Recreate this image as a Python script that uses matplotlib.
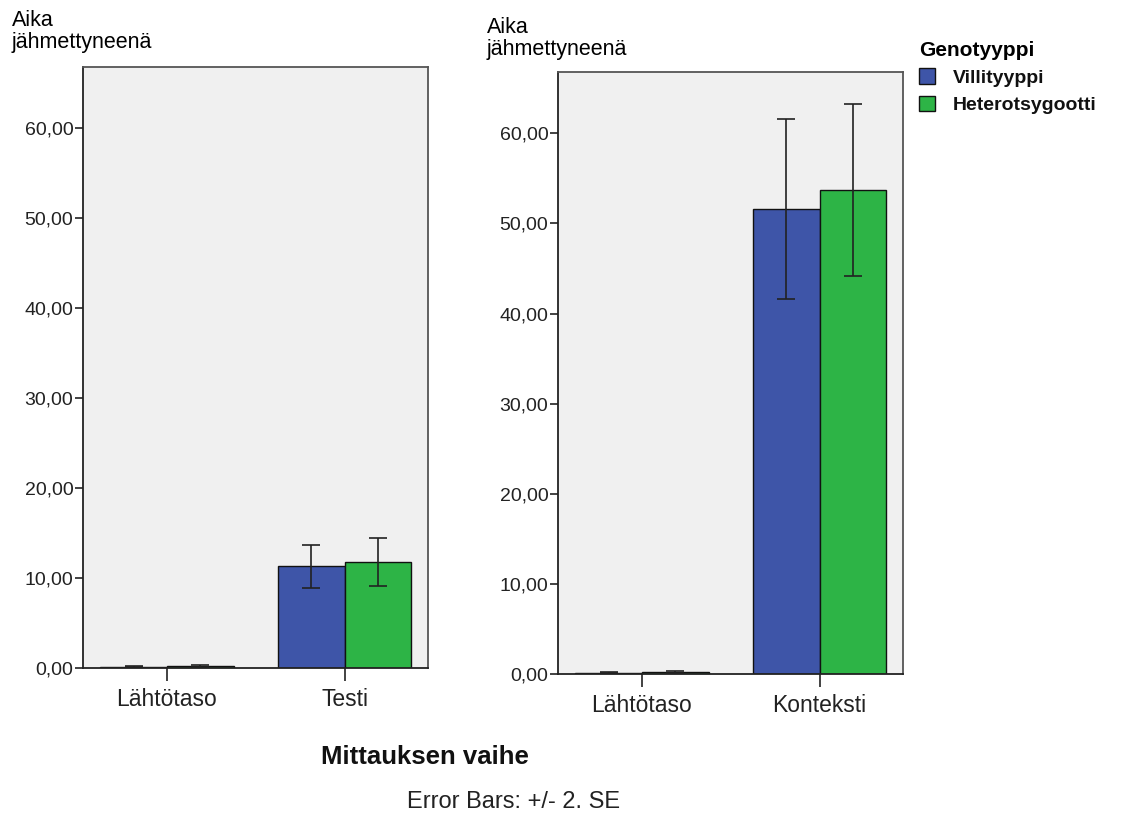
import matplotlib
matplotlib.use("Agg")
import matplotlib.pyplot as plt
import numpy as np
from matplotlib.ticker import FuncFormatter

plt.rcParams['font.family'] = ['Liberation Sans', 'DejaVu Sans']

# values (mean, +/- 2 SE)
left_categories = ['Lähtötaso', 'Testi']
left_wild = [0.15, 11.3]
left_wild_err = [0.05, 2.4]
left_het = [0.25, 11.8]
left_het_err = [0.1, 2.7]

right_categories = ['Lähtötaso', 'Konteksti']
right_wild = [0.15, 51.6]
right_wild_err = [0.05, 10.0]
right_het = [0.25, 53.7]
right_het_err = [0.1, 9.5]

series_names = ['Villityyppi', 'Heterotsygootti']
y_ticks = [0, 10, 20, 30, 40, 50, 60]

BLUE = '#3E55A8'
GREEN = '#2DB446'
W, H = 1124, 821

fig = plt.figure(figsize=(W / 100, H / 100), dpi=100)


def draw_panel(rect, cats, wild, wild_err, het, het_err):
    ax = fig.add_axes(rect)
    ax.set_facecolor('#F0F0F0')
    x = np.arange(len(cats))
    bw = 0.375
    err_kw = dict(ecolor='#222222', elinewidth=1.2, capsize=6.5, capthick=1.2)
    b1 = ax.bar(x - bw / 2, wild, bw, yerr=wild_err, color=BLUE,
                edgecolor='#111111', linewidth=1, error_kw=err_kw, zorder=2)
    b2 = ax.bar(x + bw / 2, het, bw, yerr=het_err, color=GREEN,
                edgecolor='#111111', linewidth=1, error_kw=err_kw, zorder=2)
    ax.set_xlim(-0.473, 1.47)
    ax.set_ylim(0, 66.8)
    ax.set_xticks(x)
    ax.set_xticklabels(cats, fontsize=16.5, color='#222222')
    ax.set_yticks(y_ticks)
    ax.yaxis.set_major_formatter(FuncFormatter(lambda v, p: f"{v:.2f}".replace('.', ',')))
    ax.tick_params(axis='y', labelsize=14, length=6, width=1.2, pad=1, colors='#222222')
    ax.tick_params(axis='x', length=9.5, width=1.2, pad=5, colors='#222222')
    for s in ['left', 'bottom']:
        ax.spines[s].set_color('#222222')
        ax.spines[s].set_linewidth(1.3)
    for s in ['top', 'right']:
        ax.spines[s].set_color('#555555')
        ax.spines[s].set_linewidth(1.3)
    return b1, b2


draw_panel([83 / W, 1 - 668 / H, 345 / W, 601 / H],
           left_categories, left_wild, left_wild_err, left_het, left_het_err)
b1, b2 = draw_panel([558 / W, 1 - 674 / H, 345 / W, 602 / H],
                    right_categories, right_wild, right_wild_err, right_het, right_het_err)

# y axis titles above each panel
fig.text(12 / W, 1 - 10 / H, 'Aika\njähmettyneenä', fontsize=15.5, va='top', ha='left',
         linespacing=1.05, color='#000000')
fig.text(487 / W, 1 - 17 / H, 'Aika\njähmettyneenä', fontsize=15.5, va='top', ha='left',
         linespacing=1.05, color='#000000')

fig.text(425 / W, 1 - 757 / H, 'Mittauksen vaihe', fontsize=18.5, fontweight='bold',
         ha='center', va='center', color='#111111')
fig.text(514 / W, 1 - 802 / H, 'Error Bars: +/- 2. SE', fontsize=17,
         ha='center', va='center', color='#222222')

leg = fig.legend([b1, b2], series_names, title='Genotyyppi', loc='upper left',
                 bbox_to_anchor=(909 / W, 1 - 31 / H), frameon=False,
                 prop={'size': 14, 'weight': 'bold'}, title_fontproperties={'size': 15, 'weight': 'bold'},
                 handlelength=0.85, handleheight=0.85, handletextpad=0.9,
                 labelspacing=0.45, borderpad=0, alignment='left')
for t in leg.get_texts():
    t.set_color('#111111')

fig.savefig('out.png', dpi=100)
